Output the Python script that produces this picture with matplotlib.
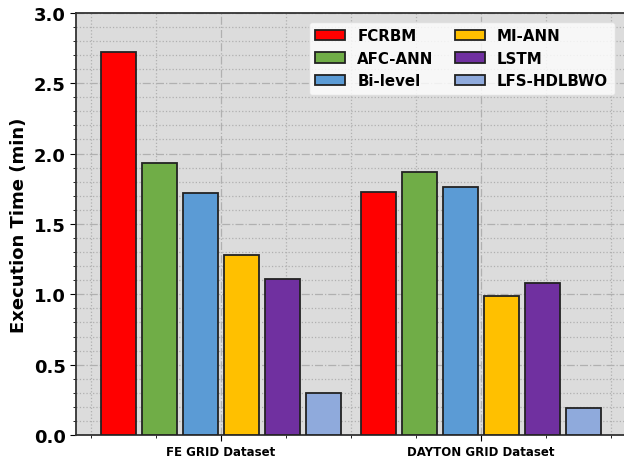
import numpy as np
import matplotlib
matplotlib.use('Agg')
import matplotlib.pyplot as plt
from matplotlib.ticker import MultipleLocator

datasets = ['FE GRID Dataset', 'DAYTON GRID Dataset']
methods = ['FCRBM', 'AFC-ANN', 'Bi-level', 'MI-ANN', 'LSTM', 'LFS-HDLBWO']
colors = ['#ff0000', '#70ad47', '#5b9bd5', '#ffc000', '#7030a0', '#8faadc']
fe_grid = [2.72, 1.93, 1.72, 1.28, 1.11, 0.30]
dayton_grid = [1.73, 1.87, 1.76, 0.99, 1.08, 0.19]

values = np.array([fe_grid, dayton_grid])
x = np.arange(len(datasets))
step = 0.158
width = 0.135

fig = plt.figure(figsize=(6.24, 4.60), dpi=100)
ax = fig.add_axes([0.122, 0.052, 0.881, 0.918])
ax.set_facecolor('#dcdcdc')

for i, m in enumerate(methods):
    ax.bar(x + (i - 2.5) * step, values[:, i], width, color=colors[i],
           edgecolor='#222222', linewidth=1.3, label=m, zorder=3)

ax.set_ylim(0, 3.0)
ax.set_xlim(-0.558, 1.558)
ax.set_xticks(x)
ax.set_xticklabels(datasets, fontsize=8.5, fontweight='bold')
ax.xaxis.set_minor_locator(MultipleLocator(0.25))
ax.yaxis.set_major_locator(MultipleLocator(0.5))
ax.yaxis.set_minor_locator(MultipleLocator(0.1))
ax.tick_params(axis='y', labelsize=13)
for t in ax.get_yticklabels():
    t.set_fontweight('bold')
ax.tick_params(which='major', length=4)
ax.tick_params(which='minor', length=2.5)

ax.grid(which='major', linestyle='-.', color='#b0b0b0', linewidth=0.9, zorder=0)
ax.grid(which='minor', linestyle=':', color='#b0b0b0', linewidth=0.9, zorder=0)
ax.set_axisbelow(True)

ax.set_ylabel('Execution Time (min)', fontsize=13, fontweight='bold')
for s in ax.spines.values():
    s.set_linewidth(1.3)
    s.set_color('#333333')

ax.legend(loc='upper right', ncol=2, prop={'weight': 'bold', 'size': 10.8},
          framealpha=0.8, edgecolor='#dddddd', columnspacing=1.4,
          handlelength=2.0, handletextpad=0.8, borderpad=0.45,
          labelspacing=0.5, bbox_to_anchor=(0.993, 0.997))

fig.savefig('out.png', dpi=100)
